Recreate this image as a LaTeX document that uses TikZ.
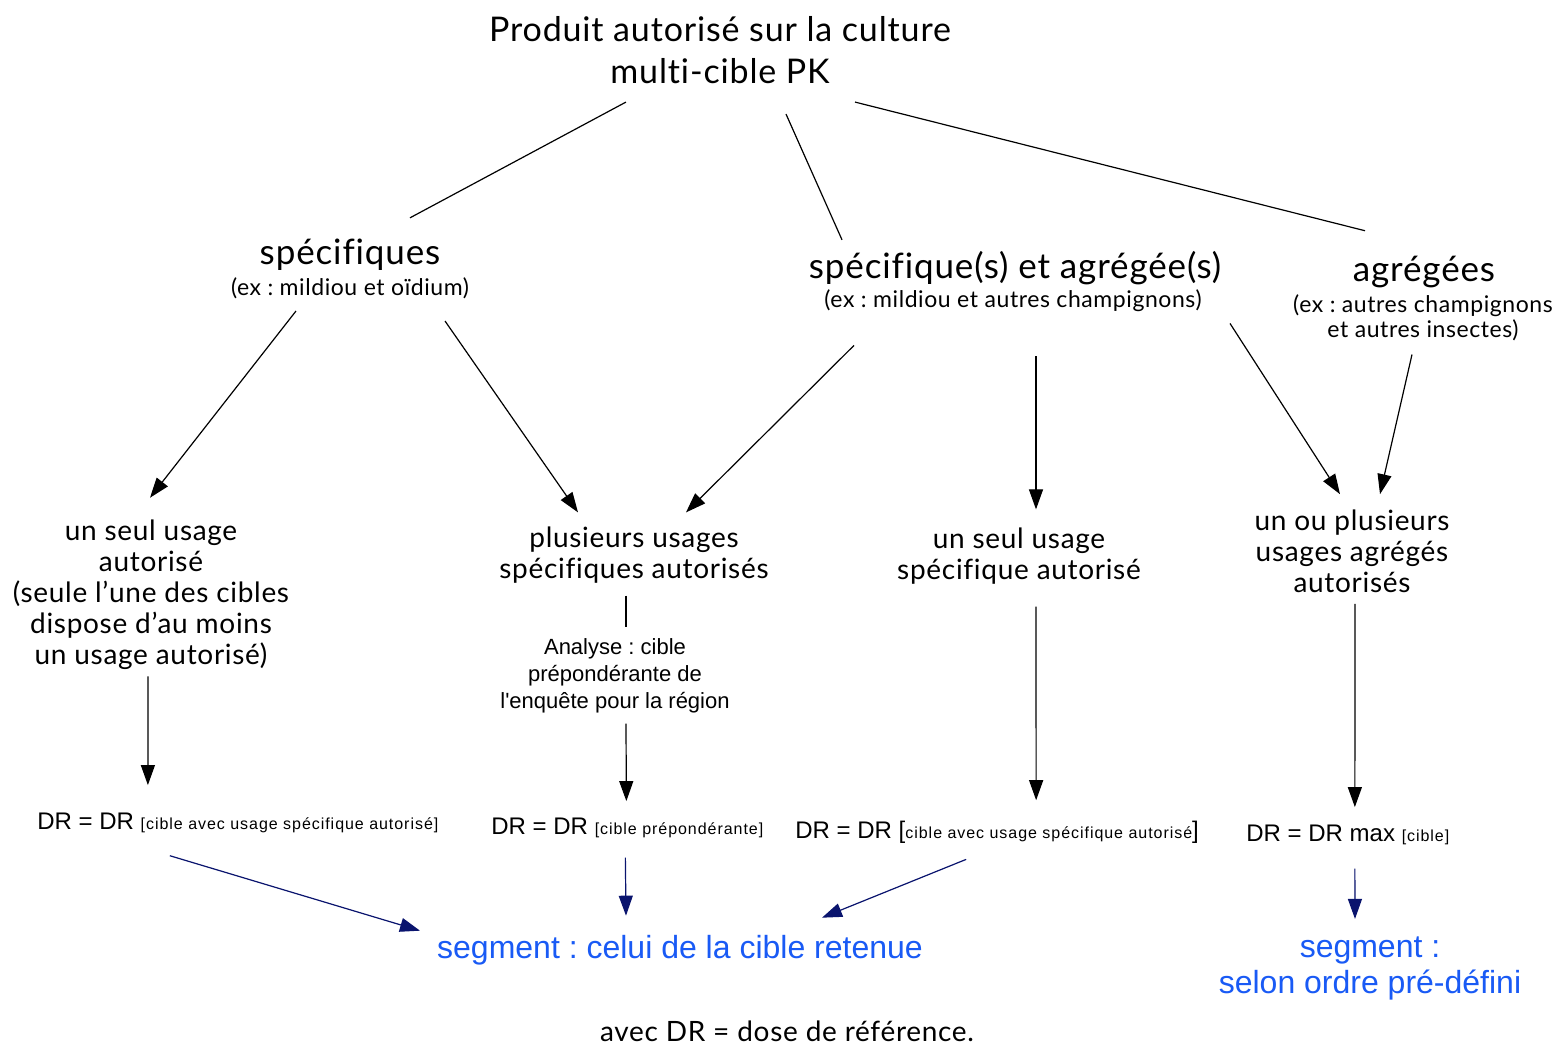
\documentclass[tikz,border=0pt]{standalone}
\usepackage{fontspec}
\setmainfont{Lato}[LetterSpace=2.5, Ligatures=NoCommon]
\newfontfamily\hlv{Liberation Sans}
\usetikzlibrary{arrows.meta}

\definecolor{segblue}{RGB}{25,90,245}
\definecolor{navy}{RGB}{10,20,110}

\tikzset{
  every node/.style={inner sep=0pt, align=center},
  big/.style={font=\fontsize{17.5}{20}\selectfont},
  ex/.style={font=\fontsize{11.5}{12.5}\selectfont},
  usage/.style={font=\fontsize{14}{15.5}\selectfont},
  dr/.style={font=\hlv\fontsize{12}{14}\selectfont, anchor=base west},
  seg/.style={font=\hlv\fontsize{16}{18}\selectfont, text=segblue},
  link/.style={line width=0.6pt},
  arr/.style={line width=0.6pt, -{Triangle[length=10pt,width=7pt]}},
  barr/.style={arr, draw=navy, fill=navy}
}
\newcommand{\smalltxt}[1]{{\fontsize{8}{9}\addfontfeature{LetterSpace=6}\selectfont #1}}
\newcommand{\brk}[1]{\smalltxt{[#1]}}

\begin{document}
\frenchspacing
\begin{tikzpicture}[x=0.5pt, y=-0.5pt]
    \useasboundingbox (0,0) rectangle (1565,1044);

    % top level
    \node[font=\fontsize{17}{21}\selectfont] (title) at (720,50) {Produit autorisé sur la culture\\multi-cible PK};

    % kinds of targets
    \node[big] (spec) at (350,255) {spécifiques};
    \node[ex] (specex) at (350,288) {(ex : mildiou et oïdium)};
    \node[big] (mix) at (1015,268) {spécifique(s) et agrégée(s)};
    \node[ex] (mixex) at (1013,301) {(ex : mildiou et autres champignons)};
    \node[big] (agr) at (1424,272) {agrégées};
    \node[ex] (agrex) at (1423,318) {(ex : autres champignons\\et autres insectes)};

    % usages
    \node[usage] (seul1) at (151,595) {un seul usage\\autorisé\\(seule l'une des cibles\\dispose d'au moins\\un usage autorisé)};
    \node[usage] (plus) at (634,555) {plusieurs usages\\spécifiques autorisés};
    \node[font=\hlv\fontsize{11}{13.5}\selectfont] (analyse) at (615,676) {Analyse : cible\\prépondérante de\\l'enquête pour la région};
    \node[usage] (seul2) at (1019,556) {un seul usage\\spécifique autorisé};
    \node[usage] (agrok) at (1352,551) {un ou plusieurs\\usages agrégés\\autorisés};

    % doses
    \node[dr] (dr1) at (37,829) {DR = DR \brk{cible avec usage spécifique autorisé}};
    \node[dr] (dr2) at (491,834) {DR = DR \brk{cible prépondérante}};
    \node[dr] (dr3) at (795,838) {DR = DR [\smalltxt{cible avec usage spécifique autorisé}]};
    \node[dr] (dr4) at (1246,841) {DR = DR max \brk{cible}};

    % segments
    \node[seg] (seg1) at (680,950) {segment : celui de la cible retenue};
    \node[seg] (seg2) at (1370,968) {segment :\\selon ordre pré-défini};

    \node[font=\fontsize{14}{15}\selectfont] (note) at (787,1031) {avec DR = dose de référence.};

    \draw[link] ([shift={(-94,18)}]title.south) -- ([shift={(60,-21)}]spec.north);
    \draw[link] ([shift={(66,30)}]title.south) -- ([shift={(-173,-11)}]mix.north);
    \draw[link] ([shift={(135,18)}]title.south) -- ([shift={(-59,-25)}]agr.north);

    \draw[arr] ([shift={(-54,12)}]specex.south) -- ([shift={(-1,-22)}]seul1.north);
    \draw[arr] ([shift={(95,22)}]specex.south) -- ([shift={(-56,-14)}]plus.north);
    \draw[arr] ([shift={(-159,33)}]mixex.south) -- ([shift={(52,-14)}]plus.north);
    \draw[arr] ([shift={(23,44)}]mixex.south) -- ([shift={(17,-18)}]seul2.north);
    \draw[arr] ([shift={(217,11)}]mixex.south) -- ([shift={(-12,-15)}]agrok.north);
    \draw[arr] ([shift={(-11,13)}]agrex.south) -- ([shift={(28,-15)}]agrok.north);

    \draw[link] ([shift={(-8,12)}]plus.south) -- ([shift={(11,-11)}]analyse.north);
    \draw[arr] ([shift={(11,10)}]analyse.south) -- ([shift={(-1,-16)}]dr2.north);
    \draw[arr] ([shift={(-3,6)}]seul1.south) -- ([shift={(-90,-27)}]dr1.north);
    \draw[arr] ([shift={(17,22)}]seul2.south) -- ([shift={(39,-20)}]dr3.north);
    \draw[arr] ([shift={(3,11)}]agrok.south) -- ([shift={(7,-17)}]dr4.north);

    \draw[barr] ([shift={(-68,23)}]dr1.south) -- ([shift={(-260,-4)}]seg1.north);
    \draw[barr] ([shift={(-2,20)}]dr2.south) -- ([shift={(-54,-19)}]seg1.north);
    \draw[barr] ([shift={(-31,16)}]dr3.south) -- ([shift={(142,-17)}]seg1.north);
    \draw[barr] ([shift={(7,24)}]dr4.south) -- ([shift={(-15,-17)}]seg2.north);
\end{tikzpicture}
\end{document}
